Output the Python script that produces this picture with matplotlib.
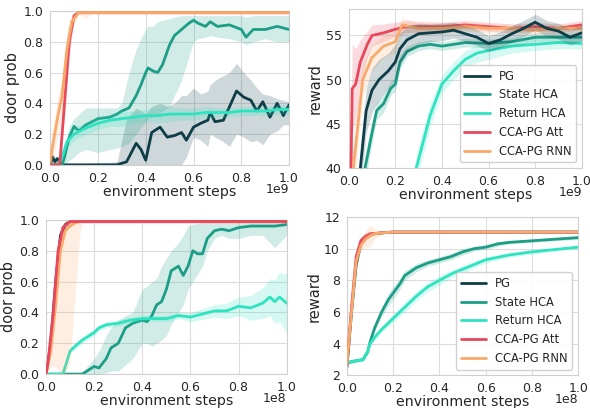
import matplotlib
matplotlib.use("Agg")
import matplotlib.pyplot as plt
import seaborn as sns
import numpy as np

# series colours
colors = {
    "PG": "#0e3d48",
    "State HCA": "#1c9e86",
    "Return HCA": "#2fe3c1",
    "CCA-PG Att": "#e8475c",
    "CCA-PG RNN": "#f8aa6c",
}

# x values are in units of the axis multiplier (1e9 top row, 1e8 bottom row)

# ---- top left: door prob, 1e9 steps ----
tl_pg_x = [0, 0.01, 0.02, 0.03, 0.05, 0.28, 0.32, 0.36, 0.38, 0.40, 0.425, 0.46, 0.49, 0.52, 0.55, 0.57, 0.60,
           0.63, 0.66, 0.67, 0.69, 0.725, 0.75, 0.78, 0.81, 0.84, 0.865, 0.89, 0.92, 0.95, 0.976, 1.0]
tl_pg_y = [0.0, 0.05, 0.02, 0.04, 0.0, 0.0, 0.02, 0.14, 0.1, 0.03, 0.21, 0.245, 0.18, 0.19, 0.21, 0.16, 0.245,
           0.27, 0.29, 0.34, 0.28, 0.29, 0.376, 0.48, 0.44, 0.42, 0.35, 0.41, 0.31, 0.40, 0.32, 0.39]
tl_pg_lo = [0.0, 0.0, 0.0, 0.0, 0.0, 0.0, 0.0, 0.0, 0.0, 0.0, 0.0, 0.0, 0.0, 0.0, 0.0, 0.05, 0.18,
            0.16, 0.12, 0.2, 0.18, 0.15, 0.12, 0.2, 0.18, 0.15, 0.16, 0.13, 0.2, 0.22, 0.26, 0.26]
tl_pg_hi = [0.0, 0.08, 0.05, 0.06, 0.0, 0.02, 0.3, 0.37, 0.35, 0.33, 0.38, 0.4, 0.38, 0.4, 0.45, 0.45, 0.5,
            0.46, 0.48, 0.52, 0.55, 0.58, 0.6, 0.66, 0.6, 0.55, 0.5, 0.46, 0.45, 0.43, 0.42, 0.41]

tl_state_x = [0, 0.05, 0.06, 0.08, 0.10, 0.12, 0.15, 0.20, 0.25, 0.28, 0.30, 0.33, 0.36, 0.38, 0.40, 0.41, 0.43,
              0.45, 0.47, 0.50, 0.52, 0.55, 0.58, 0.60, 0.62, 0.65, 0.67, 0.70, 0.75, 0.80, 0.82, 0.85, 0.90, 0.95, 1.0]
tl_state_y = [0.0, 0.0, 0.05, 0.18, 0.25, 0.22, 0.26, 0.30, 0.31, 0.33, 0.35, 0.37, 0.45, 0.52, 0.60, 0.63, 0.61,
              0.60, 0.65, 0.78, 0.84, 0.88, 0.92, 0.94, 0.92, 0.90, 0.93, 0.90, 0.91, 0.88, 0.83, 0.88, 0.88, 0.90, 0.88]
tl_state_lo = [0.0, 0.0, 0.0, 0.03, 0.05, 0.08, 0.1, 0.08, 0.1, 0.11, 0.12, 0.14, 0.2, 0.24, 0.28, 0.3, 0.31,
               0.32, 0.35, 0.38, 0.45, 0.55, 0.7, 0.8, 0.82, 0.83, 0.84, 0.83, 0.82, 0.8, 0.78, 0.8, 0.82, 0.8, 0.8]
tl_state_hi = [0.0, 0.02, 0.1, 0.25, 0.3, 0.33, 0.37, 0.37, 0.37, 0.37, 0.4, 0.6, 0.75, 0.82, 0.88, 0.9, 0.9,
               0.93, 0.94, 0.95, 0.96, 0.97, 0.97, 0.97, 0.97, 0.97, 0.97, 0.97, 0.97, 0.97, 0.96, 0.97, 0.97, 0.97, 0.97]

tl_ret_x = [0, 0.03, 0.05, 0.07, 0.10, 0.15, 0.20, 0.25, 0.30, 0.35, 0.40, 0.45, 0.50, 0.55, 0.60, 0.65, 0.70,
            0.75, 0.80, 0.85, 0.90, 0.95, 1.0]
tl_ret_y = [0.0, 0.0, 0.05, 0.15, 0.20, 0.24, 0.27, 0.29, 0.30, 0.31, 0.32, 0.32, 0.33, 0.33, 0.33, 0.34, 0.34,
            0.34, 0.35, 0.35, 0.35, 0.36, 0.36]
tl_ret_w = [0.0, 0.0, 0.02, 0.04, 0.04, 0.04, 0.04, 0.04, 0.05, 0.04, 0.04, 0.05, 0.05, 0.04, 0.04, 0.04, 0.03,
            0.03, 0.03, 0.03, 0.03, 0.03, 0.03]

tl_att_x = [0, 0.04, 0.06, 0.08, 0.10, 0.12, 0.2, 0.4, 0.6, 0.8, 1.0]
tl_att_y = [0.0, 0.0, 0.4, 0.8, 0.97, 0.99, 0.99, 0.99, 0.99, 0.99, 0.99]
tl_att_w = [0.0, 0.02, 0.1, 0.1, 0.02, 0.01, 0.01, 0.01, 0.01, 0.01, 0.01]

tl_rnn_x = [0, 0.01, 0.03, 0.05, 0.07, 0.09, 0.12, 0.15, 0.17, 0.2, 0.4, 0.6, 0.8, 1.0]
tl_rnn_y = [0.02, 0.12, 0.3, 0.45, 0.75, 0.93, 0.99, 0.99, 0.99, 0.99, 0.99, 0.99, 0.99, 0.99]
tl_rnn_w = [0.03, 0.1, 0.12, 0.12, 0.1, 0.05, 0.01, 0.04, 0.01, 0.01, 0.01, 0.01, 0.01, 0.01]

# ---- top right: reward, 1e9 steps ----
tr_pg_x = [0.03, 0.05, 0.075, 0.10, 0.13, 0.17, 0.20, 0.22, 0.25, 0.30, 0.35, 0.40, 0.45, 0.50, 0.55, 0.60,
           0.65, 0.70, 0.75, 0.80, 0.85, 0.90, 0.95, 1.0]
tr_pg_y = [33, 40, 46.5, 48.8, 50.0, 51.0, 52.0, 53.5, 54.5, 55.2, 55.3, 55.4, 55.6, 55.2, 54.8, 54.1,
           54.5, 55.2, 55.8, 56.5, 55.8, 55.5, 54.8, 55.3]
tr_pg_w = [2.5, 2.5, 2.5, 2.5, 2.3, 2.0, 2.0, 1.8, 1.5, 1.2, 1.0, 1.0, 0.9, 0.9, 0.9, 0.9,
           0.9, 0.9, 0.9, 0.9, 0.9, 0.9, 0.9, 0.9]

tr_state_x = [0.05, 0.07, 0.10, 0.12, 0.15, 0.18, 0.20, 0.22, 0.25, 0.30, 0.35, 0.40, 0.50, 0.60, 0.70,
              0.80, 0.90, 1.0]
tr_state_y = [34, 40, 44, 46.5, 47.3, 49.0, 49.5, 52.0, 53.2, 53.8, 54.0, 53.8, 54.2, 54.1, 54.3,
              54.8, 54.8, 54.8]
tr_state_w = [1.5, 1.5, 1.2, 1.0, 1.0, 0.8, 0.8, 0.8, 0.6, 0.5, 0.5, 0.5, 0.5, 0.5, 0.5,
              0.5, 0.5, 0.5]

tr_ret_x = [0.26, 0.29, 0.32, 0.35, 0.40, 0.45, 0.50, 0.55, 0.60, 0.70, 0.80, 0.90, 1.0]
tr_ret_y = [35, 40, 43, 46, 49.5, 51.0, 52.3, 53.0, 53.3, 53.8, 54.0, 54.2, 54.1]
tr_ret_w = [1.5, 1.5, 1.5, 1.3, 1.0, 1.0, 1.0, 1.0, 1.0, 0.8, 0.7, 0.7, 0.6]

tr_att_x = [0.0, 0.01, 0.015, 0.03, 0.05, 0.08, 0.10, 0.15, 0.20, 0.25, 0.30, 0.40, 0.50, 0.60, 0.70,
            0.80, 0.90, 1.0]
tr_att_y = [30, 40, 49, 49.5, 52, 54, 55, 55.3, 55.7, 56, 56, 56, 56.2, 56, 55.8, 56, 55.8, 56.2]
tr_att_w = [3, 4, 5, 4, 2.5, 1.5, 1.2, 1.0, 0.8, 0.7, 0.6, 0.5, 0.5, 0.5, 0.5, 0.5, 0.5, 0.5]

tr_rnn_x = [0.0, 0.02, 0.04, 0.06, 0.10, 0.15, 0.20, 0.23, 0.30, 0.40, 0.50, 0.60, 0.70, 0.80, 0.90, 1.0]
tr_rnn_y = [32, 40, 45, 50, 52.5, 53.8, 54.3, 56.2, 55.8, 55.8, 56.0, 55.8, 55.8, 55.6, 55.8, 55.8]
tr_rnn_w = [3, 3, 2.5, 2.0, 1.5, 1.3, 1.2, 0.8, 0.6, 0.6, 0.5, 0.5, 0.5, 0.5, 0.5, 0.5]

# ---- bottom left: door prob, 1e8 steps ----
bl_pg_x = [0, 0.02, 0.04, 0.06, 0.08, 0.10, 0.2, 0.4, 0.6, 0.8, 1.0]
bl_pg_y = [0.0, 0.2, 0.6, 0.9, 0.97, 0.99, 1.0, 1.0, 1.0, 1.0, 1.0]
bl_pg_w = [0.0, 0.05, 0.06, 0.04, 0.02, 0.01, 0.0, 0.0, 0.0, 0.0, 0.0]

bl_state_x = [0, 0.15, 0.17, 0.20, 0.22, 0.25, 0.27, 0.30, 0.33, 0.36, 0.40, 0.42, 0.44, 0.46, 0.48, 0.50,
              0.52, 0.55, 0.57, 0.59, 0.61, 0.63, 0.65, 0.67, 0.70, 0.73, 0.76, 0.80, 0.85, 0.90, 0.95, 1.0]
bl_state_y = [0.0, 0.0, 0.02, 0.05, 0.04, 0.10, 0.17, 0.20, 0.30, 0.33, 0.35, 0.34, 0.38, 0.45, 0.47, 0.55,
              0.67, 0.70, 0.64, 0.70, 0.80, 0.78, 0.78, 0.88, 0.93, 0.94, 0.93, 0.95, 0.96, 0.96, 0.96, 0.97]
bl_state_lo = [0.0, 0.0, 0.0, 0.0, 0.0, 0.01, 0.02, 0.02, 0.06, 0.1, 0.2, 0.2, 0.18, 0.2, 0.22, 0.25,
               0.32, 0.4, 0.45, 0.55, 0.6, 0.65, 0.7, 0.8, 0.88, 0.9, 0.88, 0.88, 0.9, 0.9, 0.82, 0.9]
bl_state_hi = [0.0, 0.0, 0.05, 0.1, 0.15, 0.25, 0.3, 0.35, 0.38, 0.4, 0.55, 0.57, 0.6, 0.62, 0.7, 0.75,
               0.8, 0.85, 0.9, 0.96, 0.97, 0.98, 0.98, 0.99, 0.99, 0.99, 0.99, 0.99, 0.99, 0.99, 0.99, 0.99]

bl_ret_x = [0, 0.07, 0.10, 0.12, 0.15, 0.18, 0.20, 0.22, 0.25, 0.30, 0.35, 0.40, 0.50, 0.55, 0.60, 0.70,
            0.75, 0.80, 0.85, 0.90, 0.93, 0.95, 0.97, 1.0]
bl_ret_y = [0.0, 0.0, 0.15, 0.18, 0.22, 0.25, 0.27, 0.30, 0.32, 0.33, 0.35, 0.36, 0.36, 0.38, 0.37, 0.41,
            0.41, 0.44, 0.43, 0.46, 0.50, 0.47, 0.50, 0.46]
bl_ret_w = [0.0, 0.0, 0.02, 0.02, 0.02, 0.02, 0.02, 0.02, 0.02, 0.02, 0.02, 0.02, 0.02, 0.02, 0.03, 0.04,
            0.05, 0.06, 0.08, 0.1, 0.12, 0.14, 0.16, 0.19]

bl_att_x = [0, 0.01, 0.03, 0.05, 0.07, 0.10, 0.2, 0.4, 0.6, 0.8, 1.0]
bl_att_y = [0.0, 0.1, 0.4, 0.8, 0.95, 0.99, 0.99, 0.99, 0.99, 0.99, 0.99]
bl_att_w = [0.0, 0.05, 0.06, 0.05, 0.02, 0.01, 0.01, 0.01, 0.01, 0.01, 0.01]

bl_rnn_x = [0, 0.02, 0.04, 0.06, 0.08, 0.10, 0.12, 0.14, 0.15, 0.2, 0.4, 0.6, 0.8, 1.0]
bl_rnn_y = [0.0, 0.15, 0.45, 0.8, 0.93, 0.96, 0.98, 0.99, 0.99, 0.99, 0.99, 0.99, 0.99, 0.99]
bl_rnn_lo = [0.0, 0.05, 0.05, 0.0, 0.0, 0.08, 0.5, 0.9, 0.98, 0.98, 0.98, 0.98, 0.98, 0.98]
bl_rnn_hi = [0.0, 0.2, 0.6, 0.95, 0.99, 1.0, 1.0, 1.0, 1.0, 1.0, 1.0, 1.0, 1.0, 1.0]

# ---- bottom right: reward, 1e8 steps ----
br_pg_x = [0, 0.02, 0.04, 0.06, 0.08, 0.10, 0.15, 0.20, 0.4, 0.6, 0.8, 1.0]
br_pg_y = [2.5, 6.0, 9.0, 10.3, 10.7, 10.9, 11.0, 11.05, 11.05, 11.05, 11.05, 11.05]
br_pg_w = [0.1, 0.3, 0.3, 0.2, 0.1, 0.05, 0.03, 0.02, 0.02, 0.02, 0.02, 0.02]

br_state_x = [0, 0.03, 0.05, 0.07, 0.09, 0.10, 0.12, 0.15, 0.18, 0.20, 0.23, 0.25, 0.27, 0.30, 0.35, 0.40,
              0.45, 0.50, 0.55, 0.60, 0.65, 0.70, 0.80, 0.90, 1.0]
br_state_y = [2.8, 2.9, 2.95, 3.0, 3.5, 4.1, 5.0, 6.0, 6.8, 7.2, 7.8, 8.3, 8.5, 8.8, 9.1, 9.3,
              9.5, 9.8, 10.0, 10.1, 10.3, 10.4, 10.5, 10.6, 10.7]
br_state_w = [0.1, 0.1, 0.1, 0.1, 0.15, 0.2, 0.2, 0.3, 0.4, 0.4, 0.35, 0.3, 0.3, 0.25, 0.2, 0.2,
              0.2, 0.2, 0.15, 0.15, 0.15, 0.1, 0.1, 0.1, 0.1]

br_ret_x = [0, 0.07, 0.09, 0.10, 0.12, 0.15, 0.20, 0.25, 0.30, 0.35, 0.40, 0.45, 0.50, 0.55, 0.60, 0.70,
            0.80, 0.90, 1.0]
br_ret_y = [2.8, 3.0, 3.5, 4.0, 4.4, 4.9, 5.6, 6.3, 7.0, 7.6, 8.0, 8.4, 8.7, 9.0, 9.3, 9.6,
            9.8, 9.95, 10.1]
br_ret_w = [0.1, 0.1, 0.15, 0.15, 0.2, 0.2, 0.25, 0.3, 0.3, 0.3, 0.3, 0.25, 0.25, 0.2, 0.2, 0.15,
            0.15, 0.1, 0.1]

br_att_x = [0, 0.02, 0.04, 0.06, 0.08, 0.10, 0.15, 0.2, 0.4, 0.6, 0.8, 1.0]
br_att_y = [2.7, 6.3, 9.5, 10.5, 10.8, 10.95, 11.0, 11.05, 11.05, 11.05, 11.05, 11.05]
br_att_w = [0.1, 0.3, 0.3, 0.2, 0.1, 0.05, 0.03, 0.02, 0.02, 0.02, 0.02, 0.02]

br_rnn_x = [0, 0.02, 0.04, 0.06, 0.08, 0.10, 0.12, 0.15, 0.2, 0.4, 0.6, 0.8, 1.0]
br_rnn_y = [2.7, 6.0, 9.2, 10.2, 10.6, 10.8, 10.95, 11.0, 11.05, 11.05, 11.05, 11.05, 11.05]
br_rnn_w = [0.1, 0.4, 0.4, 0.3, 0.5, 0.7, 0.3, 0.1, 0.02, 0.02, 0.02, 0.02, 0.02]


def band(y, w):
    y = np.asarray(y, float)
    w = np.asarray(w, float)
    return y - w, y + w


def draw(ax, name, x, y, lo, hi, z):
    c = colors[name]
    ax.fill_between(x, lo, hi, color=c, alpha=0.2, lw=0, zorder=z)
    ax.plot(x, y, color=c, lw=2, label=name, zorder=z + 0.5)


sns.set_style("whitegrid")
plt.rcParams["font.family"] = ["DejaVu Sans"]
plt.rcParams["axes.edgecolor"] = "#d0d0d0"
plt.rcParams["grid.color"] = "#dcdcdc"

fig = plt.figure(figsize=(5.9, 4.08), dpi=100)
ax_tl = fig.add_axes([0.085, 0.596, 0.405, 0.377])
ax_tr = fig.add_axes([0.591, 0.588, 0.395, 0.390])
ax_bl = fig.add_axes([0.078, 0.083, 0.408, 0.378])
ax_br = fig.add_axes([0.588, 0.080, 0.392, 0.388])

# top left
draw(ax_tl, "PG", tl_pg_x, tl_pg_y, tl_pg_lo, tl_pg_hi, 2)
draw(ax_tl, "State HCA", tl_state_x, tl_state_y, tl_state_lo, tl_state_hi, 3)
draw(ax_tl, "Return HCA", tl_ret_x, tl_ret_y, *band(tl_ret_y, tl_ret_w), 4)
draw(ax_tl, "CCA-PG Att", tl_att_x, tl_att_y, *band(tl_att_y, tl_att_w), 5)
draw(ax_tl, "CCA-PG RNN", tl_rnn_x, tl_rnn_y, *band(tl_rnn_y, tl_rnn_w), 6)

# top right
draw(ax_tr, "PG", tr_pg_x, tr_pg_y, *band(tr_pg_y, tr_pg_w), 6)
draw(ax_tr, "State HCA", tr_state_x, tr_state_y, *band(tr_state_y, tr_state_w), 3)
draw(ax_tr, "Return HCA", tr_ret_x, tr_ret_y, *band(tr_ret_y, tr_ret_w), 2)
draw(ax_tr, "CCA-PG Att", tr_att_x, tr_att_y, *band(tr_att_y, tr_att_w), 4)
draw(ax_tr, "CCA-PG RNN", tr_rnn_x, tr_rnn_y, *band(tr_rnn_y, tr_rnn_w), 5)

# bottom left
draw(ax_bl, "PG", bl_pg_x, bl_pg_y, *band(bl_pg_y, bl_pg_w), 2)
draw(ax_bl, "State HCA", bl_state_x, bl_state_y, bl_state_lo, bl_state_hi, 3)
draw(ax_bl, "Return HCA", bl_ret_x, bl_ret_y, *band(bl_ret_y, bl_ret_w), 4)
draw(ax_bl, "CCA-PG RNN", bl_rnn_x, bl_rnn_y, bl_rnn_lo, bl_rnn_hi, 5)
draw(ax_bl, "CCA-PG Att", bl_att_x, bl_att_y, *band(bl_att_y, bl_att_w), 6)

# bottom right
draw(ax_br, "PG", br_pg_x, br_pg_y, *band(br_pg_y, br_pg_w), 2)
draw(ax_br, "State HCA", br_state_x, br_state_y, *band(br_state_y, br_state_w), 3)
draw(ax_br, "Return HCA", br_ret_x, br_ret_y, *band(br_ret_y, br_ret_w), 4)
draw(ax_br, "CCA-PG Att", br_att_x, br_att_y, *band(br_att_y, br_att_w), 5)
draw(ax_br, "CCA-PG RNN", br_rnn_x, br_rnn_y, *band(br_rnn_y, br_rnn_w), 6)

for ax, mult in [(ax_tl, "1e9"), (ax_tr, "1e9"), (ax_bl, "1e8"), (ax_br, "1e8")]:
    ax.set_xlim(0, 1)
    ax.set_xticks(np.arange(0, 1.01, 0.2))
    ax.set_xlabel("environment steps", fontsize=10.2, labelpad=0)
    ax.tick_params(labelsize=9, pad=1.5)
    # axis multiplier, placed like the reference (right, beside the label)
    ax.annotate(mult, xy=(1, 0), xycoords="axes fraction", xytext=(0, -18),
                textcoords="offset pixels", ha="right", va="top", fontsize=9)

ax_tl.set_ylim(0, 1)
ax_bl.set_ylim(0, 1)
ax_tl.set_ylabel("door prob", fontsize=10.5, labelpad=2)
ax_bl.set_ylabel("door prob", fontsize=10.5, labelpad=2)
ax_tr.set_ylim(40, 58)
ax_tr.set_yticks([40, 45, 50, 55])
ax_tr.set_ylabel("reward", fontsize=10.5, labelpad=2)
ax_br.set_ylim(2, 12)
ax_br.set_ylabel("reward", fontsize=10.5, labelpad=2)

order = ["PG", "State HCA", "Return HCA", "CCA-PG Att", "CCA-PG RNN"]
for ax in (ax_tr, ax_br):
    h, l = ax.get_legend_handles_labels()
    hd = dict(zip(l, h))
    ax.legend([hd[k] for k in order], order, loc="lower right", fontsize=8.3,
              handlelength=2.2, borderaxespad=0.5, framealpha=0.9)

fig.savefig("out.png", dpi=100)
